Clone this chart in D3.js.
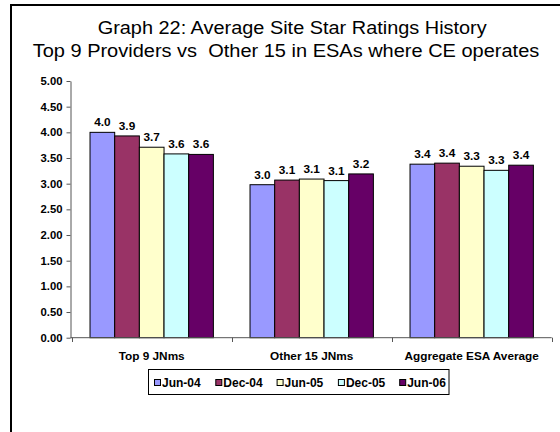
<!DOCTYPE html>
<html><head><meta charset="utf-8">
<script src="https://cdn.jsdelivr.net/npm/d3@7"></script>
<style>html,body{margin:0;padding:0;background:#fff;overflow:hidden;width:560px;height:432px}svg{display:block;font-family:Arial,"Liberation Sans",sans-serif}</style>
</head><body>
<script>
const categories = ["Top 9 JNms", "Other 15 JNms", "Aggregate ESA Average"];
const seriesNames = ["Jun-04", "Dec-04", "Jun-05", "Dec-05", "Jun-06"];
const jun04 = [4.00, 2.98, 3.38];
const dec04 = [3.93, 3.07, 3.40];
const jun05 = [3.71, 3.09, 3.34];
const dec05 = [3.58, 3.06, 3.26];
const jun06 = [3.57, 3.19, 3.36];
const seriesValues = [jun04, dec04, jun05, dec05, jun06];
const colors = ["#9999FF", "#993366", "#FFFFCC", "#CCFFFF", "#660066"];
const yTicks = [0, 0.5, 1, 1.5, 2, 2.5, 3, 3.5, 4, 4.5, 5];
const titleLines = ["Graph 22: Average Site Star Ratings History", "Top 9 Providers vs\u00a0 Other 15 in ESAs where CE operates"];

const W = 560, H = 432;
const svg = d3.select("body").append("svg").attr("width", W).attr("height", H);
svg.append("rect").attr("x", 0).attr("y", 0).attr("width", W).attr("height", H).attr("fill", "#fff");
svg.append("path").attr("d", "M11,432V5H560")
  .attr("fill", "none").attr("stroke", "#000").attr("stroke-width", 2);

const titleSpans = [[97.7, 389], [32.7, 506.6]];
svg.selectAll("text.title").data(titleLines).join("text")
  .attr("class", "title").attr("x", (d, i) => titleSpans[i][0]).attr("y", (d, i) => 34.3 + i * 22.4)
  .attr("textLength", (d, i) => titleSpans[i][1]).attr("lengthAdjust", "spacingAndGlyphs")
  .attr("font-size", 17.5).attr("fill", "#000").text(d => d);

const x0 = d3.scaleBand().domain(categories).range([71.7, 551.7]);
const x1 = d3.scaleBand().domain(seriesNames).range([x0.bandwidth() * 0.1145, x0.bandwidth() * 0.8855]);
const y = d3.scaleLinear().domain([0, 5]).range([337.7, 81]);

// y axis
const yAxis = svg.append("g").attr("transform", "translate(70.5,0)")
  .call(d3.axisLeft(y).tickValues(yTicks).tickFormat(d3.format(".2f")).tickSize(4).tickSizeOuter(0));
yAxis.select(".domain").attr("stroke", "#555");
yAxis.selectAll(".tick line").attr("stroke", "#555");
yAxis.selectAll(".tick text").attr("font-size", 11.3).attr("font-weight", "bold").attr("fill", "#000")
  .attr("font-family", "Arial, 'Liberation Sans', sans-serif").attr("x", -8);

// bars
const groups = svg.append("g").selectAll("g").data(categories).join("g")
  .attr("transform", d => `translate(${x0(d)},0)`);
groups.each(function(cat, ci) {
  const g = d3.select(this);
  const data = seriesNames.map((s, si) => ({s, si, v: seriesValues[si][ci]}));
  g.selectAll("rect").data(data).join("rect")
    .attr("x", d => x1(d.s)).attr("y", d => y(d.v))
    .attr("width", x1.bandwidth()).attr("height", d => y(0) - y(d.v))
    .attr("fill", d => colors[d.si]).attr("stroke", "#000").attr("stroke-width", 1);
  g.selectAll("text").data(data).join("text")
    .attr("x", d => x1(d.s) + x1.bandwidth() / 2).attr("y", d => y(d.v) - 6)
    .attr("text-anchor", "middle").attr("font-size", 11.8).attr("font-weight", "bold")
    .text(d => d3.format(".1f")(d.v));
});

// x axis
const xg = svg.append("g");
xg.append("line").attr("x1", 70.5).attr("x2", 551.7).attr("y1", 337.7).attr("y2", 337.7)
  .attr("stroke", "#555").attr("stroke-width", 1);
const bounds = categories.map(c => x0(c)).concat([x0.range()[1]]);
xg.selectAll("line.t").data(bounds).join("line").attr("class", "t")
  .attr("x1", d => Math.round(d) + 0.5).attr("x2", d => Math.round(d) + 0.5)
  .attr("y1", 337.7).attr("y2", 342).attr("stroke", "#555");
xg.selectAll("text").data(categories).join("text")
  .attr("x", d => x0(d) + x0.bandwidth() / 2).attr("y", 359.5)
  .attr("text-anchor", "middle").attr("font-size", 11.8).attr("font-weight", "bold").text(d => d);

// legend
const lg = svg.append("g");
lg.append("rect").attr("x", 148.5).attr("y", 369.5).attr("width", 300.5).attr("height", 25)
  .attr("fill", "#fff").attr("stroke", "#000").attr("stroke-width", 1);
const items = lg.selectAll("g").data(seriesNames).join("g")
  .attr("transform", (d, i) => `translate(${154 + i * 61.3},0)`);
items.append("rect").attr("x", 0.5).attr("y", 379.5).attr("width", 6).attr("height", 6)
  .attr("fill", (d, i) => colors[i]).attr("stroke", "#000").attr("stroke-width", 1);
items.append("text").attr("x", 8).attr("y", 386.5).attr("font-size", 12).attr("font-weight", "bold").text(d => d);
</script>
</body></html>
